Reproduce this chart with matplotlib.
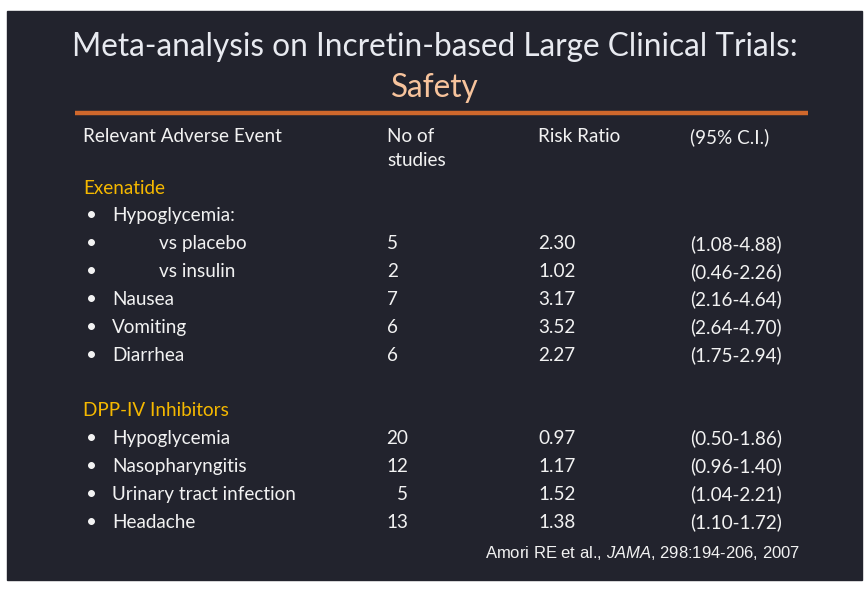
import matplotlib
matplotlib.use('Agg')
import matplotlib.pyplot as plt
from matplotlib.patches import Rectangle

plt.rcParams['mathtext.fontset'] = 'custom'
plt.rcParams['mathtext.rm'] = 'Liberation Sans'
plt.rcParams['mathtext.it'] = 'Liberation Sans:italic'

# table contents
headers = ['Relevant Adverse Event', 'No of\nstudies', 'Risk Ratio', '(95% C.I.)']

exe_events = ['Hypoglycemia:', 'vs placebo', 'vs insulin', 'Nausea', 'Vomiting', 'Diarrhea']
exe_indent = [False, True, True, False, False, False]
exe_studies = ['', '5', '2', '7', '6', '6']
exe_rr = ['', '2.30', '1.02', '3.17', '3.52', '2.27']
exe_ci = ['', '(1.08-4.88)', '(0.46-2.26)', '(2.16-4.64)', '(2.64-4.70)', '(1.75-2.94)']

dpp_events = ['Hypoglycemia', 'Nasopharyngitis', 'Urinary tract infection', 'Headache']
dpp_studies = ['20', '12', '5', '13']
dpp_rr = ['0.97', '1.17', '1.52', '1.38']
dpp_ci = ['(0.50-1.86)', '(0.96-1.40)', '(1.04-2.21)', '(1.10-1.72)']

bg = '#22232d'
white = '#f2f2f2'
gold = '#f5b800'
body = dict(family='Lato', fontsize=13.6, color=white, va='center')

fig = plt.figure(figsize=(8.65, 5.9), dpi=100)
fig.patch.set_facecolor('white')
ax = fig.add_axes([0, 0, 1, 1])
ax.set_xlim(0, 865)
ax.set_ylim(590, 0)
ax.axis('off')

ax.add_patch(Rectangle((7, 11), 855, 569, color=bg, zorder=0))

ax.text(435, 47, 'Meta-analysis on Incretin-based Large Clinical Trials:',
        family='Lato', fontsize=22.7, color='#e8eaf0', ha='center', va='center')
ax.text(435, 88, 'Safety', family='Lato', fontsize=22.7, color='#f7c39c',
        ha='center', va='center')
ax.plot([75, 808], [113, 113], color='#d0682c', lw=3.2, solid_capstyle='butt')

# header row
col_x = [83, 387, 538, 690]
for x, h in zip(col_x, headers):
    lines = h.split('\n')
    for i, line in enumerate(lines):
        ax.text(x, 137 + 23 * i, line, **body)

row_h = 27.9
ax.text(83, 188, 'Exenatide', **{**body, 'color': gold})
y = 216
for ev, ind, st, rr, ci in zip(exe_events, exe_indent, exe_studies, exe_rr, exe_ci):
    ax.text(86, y, '•', **body)
    ax.text(159 if ind else 112, y, ev, **body)
    ax.text(387, y, st, **body)
    ax.text(538, y, rr, **body)
    ax.text(690, y, ci, **body)
    y += row_h

ax.text(83, 411, 'DPP-IV Inhibitors', **{**body, 'color': gold})
y = 438.5
for ev, st, rr, ci in zip(dpp_events, dpp_studies, dpp_rr, dpp_ci):
    ax.text(86, y, '•', **body)
    ax.text(112, y, ev, **body)
    ax.text(408, y, st, ha='right', **body)
    ax.text(538, y, rr, **body)
    ax.text(690, y, ci, **body)
    y += row_h

ax.text(800, 553, r'Amori RE et al., $\it{JAMA}$, 298:194-206, 2007',
        family='Liberation Sans', fontsize=12, color=white, ha='right', va='center')

fig.savefig('out.png', dpi=100, facecolor=fig.get_facecolor())
